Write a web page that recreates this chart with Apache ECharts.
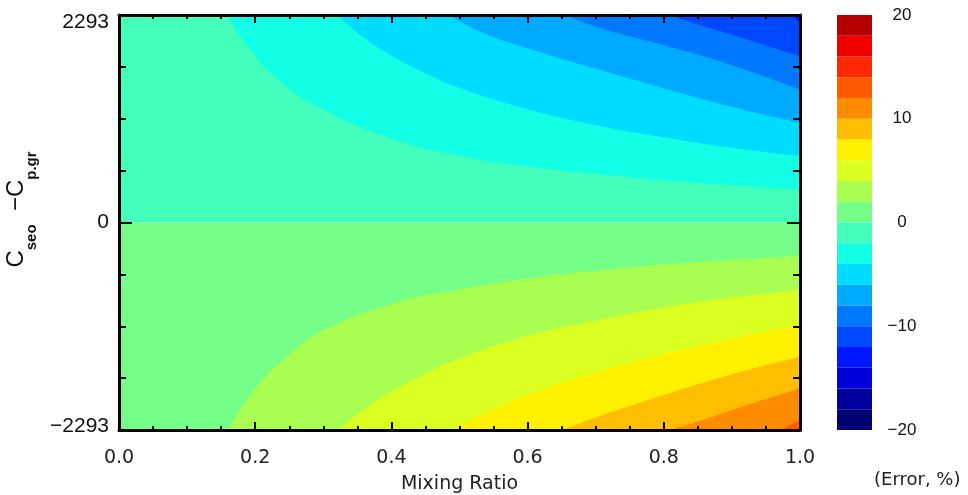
<!DOCTYPE html>
<html lang="en">
<head>
<meta charset="UTF-8">
<title>Mixing ratio error</title>
<script src="https://cdn.jsdelivr.net/npm/echarts@6/dist/echarts.min.js"></script>
<style>
  html, body {margin: 0; padding: 0; background: #fff;}
  #main {width: 968px; height: 495px;}
</style>
</head>
<body>
<div id="main"></div>
<script>
// colour bar levels (Error, %) and the colour of each 2 % band
var levels = [-20, -18, -16, -14, -12, -10, -8, -6, -4, -2, 0, 2, 4, 6, 8, 10, 12, 14, 16, 18, 20];
var levelColors = ['#000070', '#00009c', '#0000d8', '#0018ff', '#0048ff', '#0078ff', '#00aaff', '#00dcff',
                   '#12ffe6', '#44ffbc', '#76ff88', '#a8ff52', '#dcff22', '#fff000', '#ffbe00', '#ff8c00',
                   '#ff5a00', '#ff2800', '#f00000', '#b40000'];
var cbTicks = [-20, -10, 0, 10, 20];

// axis ranges
var yLimit = 2293;
var xTickStep = 0.2;

// contour lines: [mixing ratio, C_seo - C_p.gr]
// upper half (negative error)
var cNeg2 = [[0.160, 2293], [0.183, 2004], [0.232, 1589], [0.300, 1250], [0.403, 922], [0.500, 738],
             [0.601, 619], [0.704, 534], [0.802, 470], [0.900, 413], [1.000, 362]];
var cNeg4 = [[0.320, 2293], [0.359, 2048], [0.403, 1834], [0.452, 1640], [0.500, 1486], [0.601, 1250],
             [0.704, 1073], [0.802, 940], [0.900, 825], [1.000, 731]];
var cNeg6 = [[0.485, 2293], [0.530, 2110], [0.601, 1922], [0.704, 1690], [0.802, 1479], [0.900, 1280], [1.000, 1101]];
var cNeg8 = [[0.655, 2293], [0.700, 2167], [0.750, 2059], [0.802, 1956], [0.900, 1738], [1.000, 1468]];
var cNeg10 = [[0.807, 2293], [0.850, 2190], [0.900, 2075], [1.000, 1837]];
var cNeg12 = [[0.988, 2293], [1.000, 2204]];
// lower half (positive error)
var cPos2 = [[0.160, -2293], [0.202, -1818], [0.251, -1454], [0.300, -1192], [0.403, -894], [0.500, -741],
             [0.601, -619], [0.704, -530], [0.802, -465], [0.900, -413], [1.000, -369]];
var cPos4 = [[0.322, -2293], [0.360, -2064], [0.403, -1857], [0.452, -1662], [0.500, -1502], [0.601, -1250],
             [0.704, -1078], [0.802, -936], [0.900, -830], [1.000, -745]];
var cPos6 = [[0.490, -2293], [0.530, -2132], [0.601, -1903], [0.704, -1651], [0.802, -1456], [0.900, -1284], [1.000, -1133]];
var cPos8 = [[0.652, -2293], [0.700, -2155], [0.750, -2029], [0.802, -1903], [0.900, -1678], [1.000, -1484]];
var cPos10 = [[0.807, -2293], [0.850, -2201], [0.900, -2073], [1.000, -1832]];
var cPos12 = [[0.971, -2293], [1.000, -2183]];
var zeroLine = [[0, 0], [1, 0]];

function colorOf(lo) {
    return levelColors[levels.indexOf(lo)];
}
function minusSign(v) {
    return v < 0 ? '\u2212' + Math.abs(v) : String(v);
}
// filled band beyond a contour line
function band(data, lo, origin) {
    return {
        type: 'line', xAxisIndex: 0, yAxisIndex: 0, data: data,
        smooth: 0.5, symbol: 'none', silent: true,
        lineStyle: {width: 0},
        areaStyle: {color: colorOf(lo), opacity: 1, origin: origin}
    };
}

var series = [
    band(zeroLine, -2, 'end'),
    band(zeroLine, 0, 'start'),
    band(cNeg2, -4, 'end'),
    band(cNeg4, -6, 'end'),
    band(cNeg6, -8, 'end'),
    band(cNeg8, -10, 'end'),
    band(cNeg10, -12, 'end'),
    band(cNeg12, -14, 'end'),
    band(cPos2, 2, 'start'),
    band(cPos4, 4, 'start'),
    band(cPos6, 6, 'start'),
    band(cPos8, 8, 'start'),
    band(cPos10, 10, 'start'),
    band(cPos12, 12, 'start')
];

// colour bar: stacked bars, positives upward then negatives downward
for (var i = 10; i < levels.length - 1; i++) {
    series.push({type: 'bar', xAxisIndex: 2, yAxisIndex: 2, stack: 'cb', barWidth: '100%', silent: true,
        data: [levels[i + 1] - levels[i]], itemStyle: {color: levelColors[i]}});
}
for (var j = 9; j >= 0; j--) {
    series.push({type: 'bar', xAxisIndex: 2, yAxisIndex: 2, stack: 'cb', barWidth: '100%', silent: true,
        data: [levels[j] - levels[j + 1]], itemStyle: {color: levelColors[j]}});
}

var axisLine = {onZero: false, lineStyle: {color: '#000', width: 3}};

function xAx(pos, showLabel) {
    return {
        type: 'value', gridIndex: 0, position: pos, min: 0, max: 1, interval: xTickStep, z: 10,
        axisLine: axisLine,
        axisTick: {inside: true, length: 8, lineStyle: {color: '#000', width: 2}},
        minorTick: {show: true, splitNumber: 4, length: 4, lineStyle: {color: '#000', width: 2}},
        splitLine: {show: false},
        axisLabel: {show: showLabel, margin: 19, fontFamily: 'DejaVu Sans', fontSize: 19, color: '#222',
            formatter: function (v) { return v.toFixed(1); }},
        name: showLabel ? 'Mixing Ratio' : '',
        nameLocation: 'middle', nameGap: 45,
        nameTextStyle: {fontFamily: 'DejaVu Sans', fontSize: 19, color: '#222'}
    };
}
function yAx(pos, showLabel) {
    return {
        type: 'value', gridIndex: 0, position: pos, min: -yLimit, max: yLimit, interval: yLimit, z: 10,
        axisLine: axisLine,
        axisTick: {inside: true, length: 13, lineStyle: {color: '#000', width: 2}},
        minorTick: {show: true, splitNumber: 4, length: 7, lineStyle: {color: '#000', width: 2}},
        splitLine: {show: false},
        axisLabel: {show: showLabel, margin: 10, fontFamily: 'Liberation Sans', fontSize: 21, color: '#111',
            formatter: function (v) {
                if (v > 0) return '{t|' + v + '}';
                if (v < 0) return '{b|' + minusSign(v) + '}';
                return '0';
            },
            rich: {
                t: {fontFamily: 'Liberation Sans', fontSize: 21, color: '#111', padding: [14, 0, 0, 0]},
                b: {fontFamily: 'Liberation Sans', fontSize: 21, color: '#111', padding: [0, 0, 8, 0]}
            }},
        name: showLabel ? '{c|C}{s|seo}{c|  \u2212C}{s|p.gr}' : '',
        nameLocation: 'middle', nameRotate: 90, nameGap: 78,
        nameTextStyle: {
            padding: [0, 0, 0, 26],
            rich: {
                c: {fontFamily: 'Liberation Sans', fontSize: 24, color: '#111', verticalAlign: 'top', lineHeight: 24},
                s: {fontFamily: 'Liberation Sans', fontSize: 15, fontWeight: 'bold', color: '#111',
                    verticalAlign: 'bottom', padding: [20, 0, 0, 0]}
            }
        }
    };
}

var chart = echarts.init(document.getElementById('main'));
chart.setOption({
    animation: false,
    backgroundColor: '#fff',
    grid: [
        {left: 119, top: 15, width: 681, height: 415, outerBoundsMode: 'none'},
        {left: 837, top: 15, width: 35, height: 415, outerBoundsMode: 'none'}
    ],
    xAxis: [
        xAx('bottom', true),
        xAx('top', false),
        {type: 'category', gridIndex: 1, data: ['e'], show: false}
    ],
    yAxis: [
        yAx('left', true),
        yAx('right', false),
        {type: 'value', gridIndex: 1, position: 'right', min: levels[0], max: levels[levels.length - 1], interval: 10,
            axisLine: {show: false}, axisTick: {show: false}, splitLine: {show: false},
            axisLabel: {margin: 30, align: 'center', fontFamily: 'Liberation Sans', fontSize: 17, color: '#111',
                formatter: function (v) { return cbTicks.indexOf(v) >= 0 ? minusSign(v) : ''; }}}
    ],
    graphic: [{
        type: 'text', left: 874, top: 471,
        style: {text: '(Error, %)', fontFamily: 'DejaVu Sans', fontSize: 18, fill: '#222'}
    }],
    series: series
});
</script>
</body>
</html>
